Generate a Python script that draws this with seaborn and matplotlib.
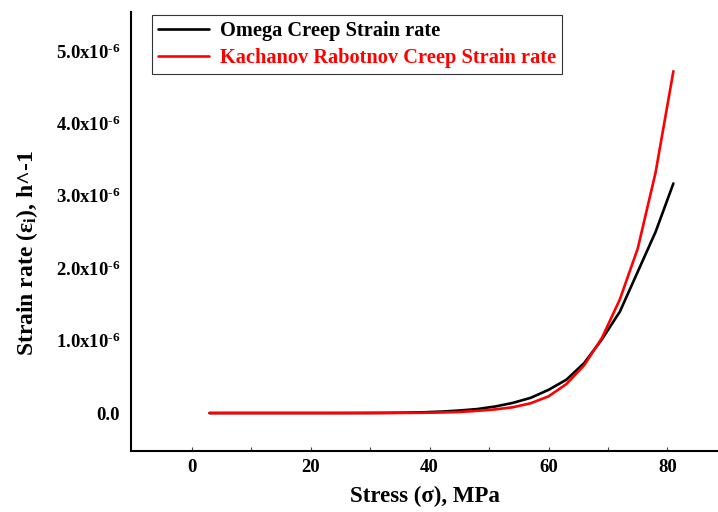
import numpy as np
import pandas as pd
import seaborn as sns
import matplotlib.pyplot as plt
from matplotlib.ticker import FixedLocator, FuncFormatter

# stress values (MPa)
stress = [3, 6, 9, 12, 15, 18, 21, 24, 27, 30, 33, 36, 39, 42,
          45, 48, 51, 54, 57, 60, 63, 66, 69, 72, 75, 78, 81]

# strain rates in units of 1e-6 h^-1
omega_rate = [0.0, 0.0, 0.0, 0.0, 0.0, 0.0, 0.0001, 0.0002, 0.0006, 0.0015,
              0.003, 0.006, 0.011, 0.02, 0.035, 0.055, 0.09, 0.14, 0.21,
              0.32, 0.46, 0.69, 1.02, 1.40, 1.95, 2.50, 3.17]
kr_rate = [0.0, 0.0, 0.0, 0.0, 0.0, 0.0, 0.0, 0.0, 0.0001, 0.0003,
           0.0008, 0.002, 0.004, 0.008, 0.015, 0.03, 0.05, 0.08, 0.135,
           0.23, 0.40, 0.66, 1.04, 1.57, 2.27, 3.32, 4.72]

omega_label = 'Omega Creep Strain rate'
kr_label = 'Kachanov Rabotnov Creep Strain rate'

df = pd.DataFrame({
    'stress': stress * 2,
    'rate': [v * 1e-6 for v in omega_rate] + [v * 1e-6 for v in kr_rate],
    'model': [omega_label] * len(stress) + [kr_label] * len(stress),
})

sns.set_style('white')
plt.rcParams['font.family'] = ['Liberation Serif', 'DejaVu Serif']
plt.rcParams['font.weight'] = 'bold'
plt.rcParams['text.color'] = 'black'
plt.rcParams['axes.labelcolor'] = 'black'
plt.rcParams['xtick.color'] = 'black'
plt.rcParams['ytick.color'] = 'black'
plt.rcParams['mathtext.fontset'] = 'custom'
plt.rcParams['mathtext.rm'] = 'Liberation Serif:bold'
plt.rcParams['mathtext.it'] = 'Liberation Serif:bold'
plt.rcParams['mathtext.bf'] = 'Liberation Serif:bold'
plt.rcParams['mathtext.default'] = 'rm'

fig = plt.figure(figsize=(7.18, 5.12), dpi=100)
ax = fig.add_axes([0.1825, 0.119, 0.8175, 0.858])

sns.lineplot(data=df, x='stress', y='rate', hue='model',
             palette={omega_label: 'black', kr_label: '#ff0000'},
             linewidth=1.9, ax=ax, legend=False)

ax.set_xlim(-10.2, 88.5)
ax.set_ylim(-0.525e-6, 5.54e-6)

# axis styling
for side in ['top', 'right']:
    ax.spines[side].set_visible(False)
for side in ['left', 'bottom']:
    ax.spines[side].set_color('black')
    ax.spines[side].set_linewidth(1.5)

ax.xaxis.set_major_locator(FixedLocator([0, 20, 40, 60, 80]))
ax.xaxis.set_minor_locator(FixedLocator([10, 30, 50, 70]))
ax.tick_params(axis='x', which='both', direction='in', length=3, width=0.8,
               color='#444444', labelcolor='black', labelsize=13.5, pad=6, bottom=True)
ax.tick_params(axis='y', which='both', length=0, labelsize=13.5, pad=8,
               labelcolor='black', left=False)

ax.yaxis.set_major_locator(FixedLocator([0, 1e-6, 2e-6, 3e-6, 4e-6, 5e-6]))


def fmt(v, pos):
    if abs(v) < 1e-12:
        return '0.0'
    return '%.1fx10$^{\\text{-6}}$' % (v * 1e6)


ax.yaxis.set_major_formatter(FuncFormatter(fmt))
for lab in ax.get_xticklabels() + ax.get_yticklabels():
    lab.set_fontweight('bold')

ax.set_xlabel('Stress (σ), MPa', fontsize=16.5, fontweight='bold', color='black', labelpad=7)
ax.set_ylabel('Strain rate (ε$_{i}$), h^-1', fontsize=17, fontweight='bold', color='black')
ax.yaxis.set_label_coords(-0.155, 0.451)

# legend
handles = [plt.Line2D([], [], color='black', linewidth=1.9),
           plt.Line2D([], [], color='#ff0000', linewidth=1.9)]
leg = ax.legend(handles, [omega_label, kr_label], loc='upper left',
                bbox_to_anchor=(0.036, 0.993), fancybox=False, frameon=True,
                fontsize=14.7, handlelength=2.5, borderpad=0.3, labelspacing=0.35,
                handletextpad=0.5, borderaxespad=0)
leg.get_frame().set_edgecolor('black')
leg.get_frame().set_linewidth(0.8)
leg.get_texts()[0].set_color('black')
leg.get_texts()[1].set_color('#ff0000')
for t in leg.get_texts():
    t.set_fontweight('bold')

fig.savefig('out.png', dpi=100)
